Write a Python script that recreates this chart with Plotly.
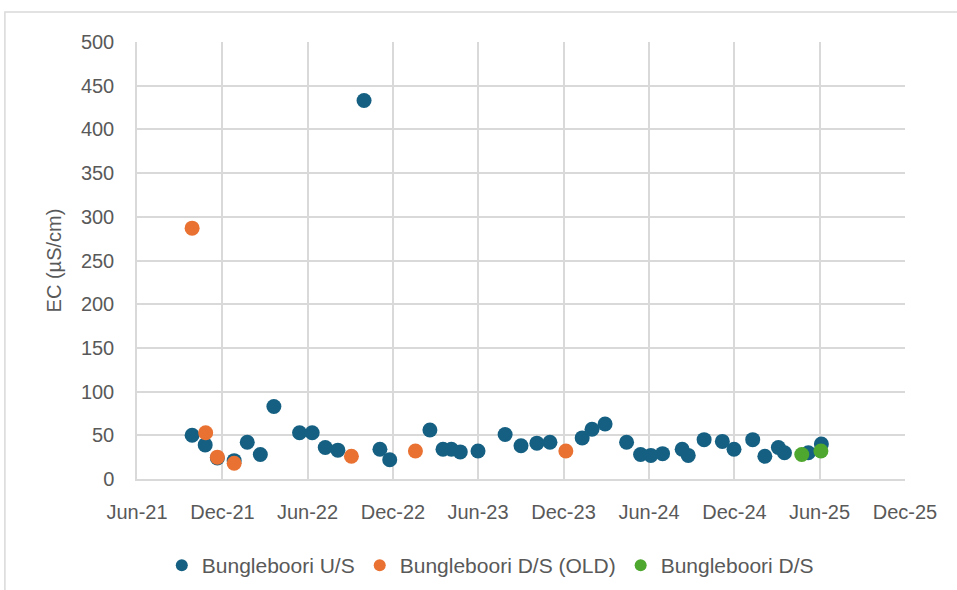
import plotly.graph_objects as go

# Bungleboori U/S
us_dates = ['2021-09-27', '2021-10-25', '2021-11-20', '2021-12-26', '2022-01-23',
            '2022-02-20', '2022-03-21', '2022-05-15', '2022-06-11', '2022-07-09',
            '2022-08-05', '2022-09-30', '2022-11-03', '2022-11-24', '2023-02-18',
            '2023-03-18', '2023-04-05', '2023-04-24', '2023-06-01', '2023-07-29',
            '2023-09-01', '2023-10-05', '2023-11-02', '2024-01-10', '2024-01-31',
            '2024-02-28', '2024-04-14', '2024-05-14', '2024-06-05', '2024-06-30',
            '2024-08-11', '2024-08-24', '2024-09-27', '2024-11-05', '2024-11-30',
            '2025-01-09', '2025-02-04', '2025-03-05', '2025-03-18', '2025-05-08',
            '2025-06-05']
us_ec = [50, 39, 24, 21, 42, 28, 83, 53, 53, 36,
         33, 433, 34, 22, 56, 34, 34, 31, 32, 51,
         38, 41, 42, 47, 57, 63, 42, 28, 27, 29,
         34, 27, 45, 43, 34, 45, 26, 36, 30, 30,
         40]

# Bungleboori D/S (OLD)
ds_old_dates = ['2021-09-27', '2021-10-26', '2021-11-20', '2021-12-26',
                '2022-09-03', '2023-01-18', '2023-12-06']
ds_old_ec = [287, 53, 25, 18, 26, 32, 32]

# Bungleboori D/S
ds_dates = ['2025-04-24', '2025-06-04']
ds_ec = [28, 32]

series = [
    ('Bungleboori U/S', us_dates, us_ec, '#156082'),
    ('Bungleboori D/S (OLD)', ds_old_dates, ds_old_ec, '#E97132'),
    ('Bungleboori D/S', ds_dates, ds_ec, '#4EA72E'),
]

font_family = 'Liberation Sans, Arial, sans-serif'
grey_text = '#595959'
grid = '#d9d9d9'

fig = go.Figure()
for name, dates, ec, colour in series:
    fig.add_trace(go.Scatter(
        x=dates,
        y=ec,
        mode='markers',
        name=name,
        marker=dict(color=colour, size=15, line=dict(width=0))
    ))

fig.update_layout(
    width=957,
    height=590,
    margin=dict(l=137, r=52, t=42, b=111, autoexpand=False),
    plot_bgcolor='white',
    paper_bgcolor='white',
    font=dict(family=font_family, size=20, color=grey_text),
    showlegend=True,
    legend=dict(
        orientation='h',
        x=0.46,
        xanchor='center',
        y=-0.198,
        yanchor='middle',
        font=dict(size=21, color=grey_text),
        itemsizing='constant',
    ),
    shapes=[
        # outer chart frame
        dict(type='rect', xref='paper', yref='paper',
             x0=-0.172, x1=1.2, y0=-0.5, y1=1.0686,
             line=dict(color=grid, width=1.5), layer='below')
    ],
)

fig.update_xaxes(
    type='date',
    range=['2021-06-01', '2025-12-01'],
    tick0='2021-06-01',
    dtick='M6',
    tickformat='%b-%y',
    showgrid=True,
    gridcolor=grid,
    gridwidth=1.5,
    showline=True,
    linecolor=grid,
    linewidth=1.5,
    ticks='',
    ticklabelstandoff=14,
    zeroline=False,
    automargin=False,
)

fig.update_yaxes(
    range=[0, 500],
    dtick=50,
    showgrid=True,
    gridcolor=grid,
    gridwidth=1.5,
    showline=True,
    linecolor=grid,
    linewidth=1.5,
    ticks='',
    ticklabelstandoff=17,
    zeroline=False,
    automargin=False,
    title=dict(text='EC (µS/cm)', font=dict(size=20, color=grey_text), standoff=14),
)

# page body has a default 8px margin; drop it so the figure sits at the corner
fig.write_html("out.html", config={'displayModeBar': False},
               post_script="document.body.style.margin = '0';")
